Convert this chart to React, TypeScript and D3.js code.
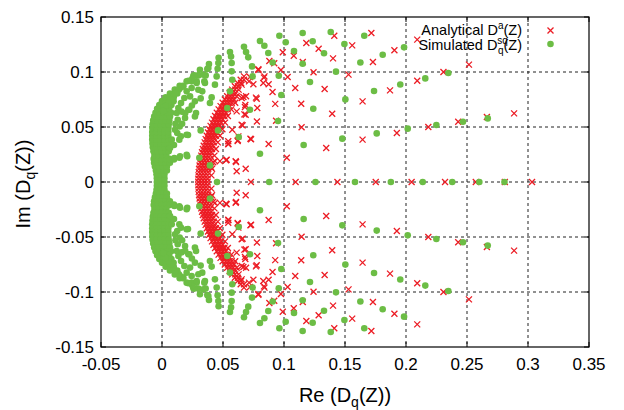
import React from "react";
import * as d3 from "d3";

// ---------- axis ticks ----------
const xTicks = [-0.05, 0, 0.05, 0.1, 0.15, 0.2, 0.25, 0.3, 0.35];
const xTickLabels = ["-0.05", "0", "0.05", "0.1", "0.15", "0.2", "0.25", "0.3", "0.35"];
const yTicks = [-0.15, -0.1, -0.05, 0, 0.05, 0.1, 0.15];
const yTickLabels = ["-0.15", "-0.1", "-0.05", "0", "0.05", "0.1", "0.15"];

// ---------- Analytical (red crosses) ----------
// points lying on the real axis
const redAxisRe = [0.0298, 0.0323, 0.0348, 0.0373, 0.0729, 0.1095, 0.1438, 0.1752, 0.2046, 0.232, 0.2572, 0.281, 0.3033];
// dense crescent, rows [Im, Re values]; upper half (lower half is the complex conjugate)
const redBandRows: [number, number[]][] = [
  [0.003, [0.0298, 0.0323, 0.0348, 0.0373]],
  [0.006, [0.0299, 0.0324, 0.0349, 0.0374, 0.0405]],
  [0.009, [0.0301, 0.0326, 0.0351, 0.0376]],
  [0.012, [0.0304, 0.0329, 0.0354, 0.0379, 0.041]],
  [0.015, [0.0308, 0.0333, 0.0358, 0.0383]],
  [0.018, [0.0312, 0.0337, 0.0362, 0.0387, 0.042]],
  [0.021, [0.0317, 0.0342, 0.0367, 0.0392]],
  [0.024, [0.0322, 0.0347, 0.0372, 0.0397, 0.043]],
  [0.027, [0.0328, 0.0353, 0.0378, 0.0403]],
  [0.03, [0.0335, 0.036, 0.0385, 0.041, 0.0442]],
  [0.033, [0.0342, 0.0367, 0.0392, 0.0417]],
  [0.036, [0.035, 0.0375, 0.04, 0.0425, 0.0457]],
  [0.039, [0.0358, 0.0383, 0.0408, 0.0433]],
  [0.042, [0.0367, 0.0392, 0.0417, 0.0442, 0.0475]],
  [0.045, [0.0377, 0.0402, 0.0427, 0.0452]],
  [0.048, [0.0387, 0.0412, 0.0437, 0.0462, 0.0495]],
  [0.051, [0.0398, 0.0423, 0.0448, 0.0473]],
  [0.054, [0.041, 0.0435, 0.046, 0.0485, 0.0517]],
  [0.057, [0.0422, 0.0447, 0.0472, 0.0497]],
  [0.06, [0.0435, 0.046, 0.0485, 0.051, 0.054]],
  [0.063, [0.0449, 0.0474, 0.0499, 0.0524]],
  [0.066, [0.0464, 0.0489, 0.0514, 0.0539, 0.0568]],
  [0.069, [0.048, 0.0505, 0.053, 0.0555]],
  [0.072, [0.0497, 0.0522, 0.0547, 0.0572, 0.06]],
  [0.075, [0.0515, 0.054, 0.0565, 0.059]],
  [0.078, [0.0534, 0.0559, 0.0584, 0.0612]],
  [0.081, [0.0554, 0.0579, 0.0604]],
  [0.084, [0.0575, 0.06, 0.0628]],
  [0.087, [0.0597, 0.0622]],
  [0.09, [0.062, 0.0648]],
  [0.093, [0.0645, 0.0672]],
  [0.096, [0.0672]],
];
// scattered crosses, upper half [Re, Im]
const redUpper: [number, number][] = [
  [0.1412, 0.133], [0.1716, 0.1355], [0.1183, 0.1264], [0.1284, 0.1212], [0.1559, 0.1242], [0.2092, 0.1294],
  [0.099, 0.118], [0.108, 0.1148], [0.1402, 0.1124], [0.1729, 0.1091], [0.1905, 0.1197], [0.1154, 0.1091],
  [0.088, 0.11], [0.092, 0.108], [0.0975, 0.1018], [0.079, 0.1018], [0.1242, 0.0997], [0.1529, 0.0976],
  [0.2307, 0.1], [0.2516, 0.1067], [0.0721, 0.0955], [0.084, 0.096], [0.103, 0.0955], [0.0906, 0.0818],
  [0.1092, 0.0855], [0.1333, 0.0845], [0.1869, 0.0833], [0.2092, 0.0921], [0.0776, 0.0757], [0.1141, 0.0712],
  [0.1644, 0.0733], [0.0928, 0.071], [0.1395, 0.0621], [0.2886, 0.0624], [0.2663, 0.0591], [0.2428, 0.0548],
  [0.2183, 0.05], [0.1925, 0.0445], [0.1644, 0.0385], [0.1144, 0.0497], [0.0778, 0.055], [0.0935, 0.0557],
  [0.1346, 0.0309], [0.1023, 0.022], [0.0686, 0.012], [0.0874, 0.0345], [0.0725, 0.0393], [0.0622, 0.038],
  [0.0661, 0.0515], [0.0653, 0.0885], [0.0713, 0.0915], [0.083, 0.09], [0.0667, 0.0773], [0.0781, 0.0673],
  [0.068, 0.0682], [0.0612, 0.0642], [0.0686, 0.0612], [0.0576, 0.0475], [0.0543, 0.0348], [0.0604, 0.0188],
  [0.053, 0.0203], [0.0402, 0.0136], [0.0434, 0.019], [0.0475, 0.019], [0.0525, 0.0197], [0.0607, 0.0182],
  [0.0544, 0.0343], [0.062, 0.0373], [0.073, 0.0388], [0.0675, 0.0615], [0.0683, 0.07], [0.0689, 0.078],
  [0.077, 0.0767], [0.0749, 0.0888], [0.079, 0.1025], [0.0836, 0.0949], [0.0874, 0.0888], [0.0653, 0.0764],
  [0.0653, 0.052], [0.0543, 0.037], [0.0612, 0.0097], [0.0626, 0.0415],
];

// ---------- Simulated (green dots) ----------
const greenAxisRe = [-0.0042, -0.001, 0.002, 0.0451, 0.0879, 0.1258, 0.1582, 0.1876, 0.2137, 0.2379, 0.2601, 0.2807];
// dense lobe near the origin, rows [Im, Re values]; upper half
const greenLobeRows: [number, number[]][] = [
  [0.0035, [-0.0042, -0.001, 0.002]],
  [0.007, [-0.0045, -0.0012, 0.002]],
  [0.0105, [-0.005, -0.0017, 0.0015, 0.004]],
  [0.014, [-0.0058, -0.0025, 0.0008, 0.004]],
  [0.0175, [-0.0065, -0.0032, 0.0, 0.0033, 0.0065]],
  [0.021, [-0.0068, -0.0035, -0.0002, 0.003, 0.0062]],
  [0.0245, [-0.0062, -0.003, 0.0003, 0.0035]],
  [0.028, [-0.007, -0.0037, -0.0004, 0.0029, 0.0055]],
  [0.0315, [-0.0075, -0.0042, -0.0009, 0.0024, 0.0055]],
  [0.035, [-0.0078, -0.0045, -0.0012, 0.0021, 0.0054]],
  [0.0385, [-0.008, -0.0047, -0.0014, 0.0019, 0.0052]],
  [0.042, [-0.008, -0.0047, -0.0014, 0.0019, 0.0052]],
  [0.0455, [-0.008, -0.0047, -0.0014, 0.0019, 0.0052]],
  [0.049, [-0.0079, -0.0046, -0.0013, 0.002, 0.0053]],
  [0.0525, [-0.0077, -0.0044, -0.0011, 0.0022, 0.0055]],
  [0.056, [-0.0072, -0.0039, -0.0006, 0.0027, 0.006]],
  [0.0595, [-0.0064, -0.0031, 0.0002, 0.0035, 0.0066]],
  [0.063, [-0.0053, -0.002, 0.0013, 0.0046, 0.0075]],
  [0.0665, [-0.004, -0.0007, 0.0026, 0.0059]],
  [0.07, [-0.0022, 0.0011, 0.0044, 0.0077]],
  [0.0735, [0.0, 0.0033, 0.0066, 0.0095]],
  [0.077, [0.003, 0.0063, 0.0096]],
  [0.0805, [0.0065, 0.0098, 0.0125]],
  [0.084, [0.0105, 0.0138]],
  [0.0875, [0.0145, 0.0172]],
];
// scattered dots, upper half [Re, Im]
const greenUpper: [number, number][] = [
  [0.0962, 0.133], [0.1153, 0.1354], [0.1383, 0.1364], [0.1658, 0.133], [0.0803, 0.1282], [0.1014, 0.127],
  [0.1235, 0.128], [0.1495, 0.1254], [0.0672, 0.123], [0.0839, 0.1239], [0.1328, 0.117], [0.1809, 0.1157],
  [0.1984, 0.1224], [0.0557, 0.1182], [0.0689, 0.1182], [0.0871, 0.1173], [0.1082, 0.1191], [0.1153, 0.1075],
  [0.1626, 0.1087], [0.0464, 0.113], [0.0566, 0.114], [0.0707, 0.1133], [0.0907, 0.1087], [0.1426, 0.1003],
  [0.2347, 0.0991], [0.2158, 0.0942], [0.0385, 0.1073], [0.0462, 0.1082], [0.0571, 0.1082], [0.0738, 0.1051],
  [0.1213, 0.0909], [0.1953, 0.0887], [0.0311, 0.1021], [0.0371, 0.1027], [0.0456, 0.103], [0.0571, 0.1006],
  [0.0957, 0.0966], [0.1738, 0.0827], [0.0257, 0.0966], [0.0298, 0.0969], [0.0358, 0.0969], [0.0448, 0.096],
  [0.0576, 0.093], [0.0743, 0.096], [0.1503, 0.0751], [0.0202, 0.0915], [0.0243, 0.0915], [0.0284, 0.0915],
  [0.0347, 0.0915], [0.0434, 0.0885], [0.0557, 0.0824], [0.0978, 0.0791], [0.124, 0.0666], [0.0298, 0.0839],
  [0.033, 0.0824], [0.0317, 0.076], [0.0407, 0.0769], [0.0393, 0.0718], [0.0535, 0.0673], [0.0721, 0.0657],
  [0.2014, 0.0485], [0.2249, 0.0518], [0.2467, 0.0548], [0.267, 0.0578], [0.0224, 0.0657], [0.0279, 0.0627],
  [0.027, 0.0596], [0.0459, 0.0469], [0.0629, 0.0409], [0.0951, 0.0555], [0.176, 0.0442], [0.1478, 0.0394],
  [0.1161, 0.0336], [0.0803, 0.0257], [0.0317, 0.0469], [0.0213, 0.0427], [0.0142, 0.0385], [0.0098, 0.0336],
  [0.0098, 0.0204], [0.0142, 0.022], [0.0207, 0.0234], [0.0306, 0.022], [0.0393, 0.0151],
  [0.038, 0.1036], [0.0339, 0.0975], [0.0265, 0.0969], [0.0248, 0.0939], [0.0216, 0.0921], [0.0175, 0.087],
  [0.0156, 0.086], [0.0134, 0.0839], [0.0112, 0.0809], [0.0093, 0.0779], [0.0073, 0.075], [0.0052, 0.072],
  [0.003, 0.069], [0.0011, 0.0645],
  [0.0243, 0.0855], [0.0284, 0.09], [0.0352, 0.09], [0.0202, 0.0824], [0.023, 0.0778], [0.0183, 0.0764],
  [0.027, 0.0733], [0.0156, 0.0718], [0.0134, 0.0673], [0.0216, 0.0657], [0.012, 0.0627], [0.0129, 0.0566],
  [0.0189, 0.0582], [0.0107, 0.0475], [0.0202, 0.043], [0.008, 0.0385], [0.0066, 0.0309], [0.0101, 0.0218],
  [0.0148, 0.0233], [0.0202, 0.0248], [0.0125, 0.0445], [0.0155, 0.0415], [0.0145, 0.0505], [0.0165, 0.053],
  [0.019, 0.0625], [0.0245, 0.0695], [0.016, 0.064], [0.011, 0.053],
];

// ---------- assemble (upper half + complex conjugates + real axis) ----------
type P = [number, number];
const rowsToPoints = (rows: [number, number[]][]): P[] =>
  rows.flatMap(([im, res]) => res.map((re) => [re, im] as P));
const withConjugates = (pts: P[]): P[] => pts.flatMap(([re, im]) => [[re, im] as P, [re, -im] as P]);

const redPoints: P[] = [
  ...redAxisRe.map((re) => [re, 0] as P),
  ...withConjugates([...rowsToPoints(redBandRows), ...redUpper]),
];
const greenPoints: P[] = [
  ...greenAxisRe.map((re) => [re, 0] as P),
  ...withConjugates([...rowsToPoints(greenLobeRows), ...greenUpper]),
];

const RED = "#ec1c24";
const GREEN = "#6cbd45";
const FONT = "'Liberation Sans', Arial, Helvetica, sans-serif";

export default function App() {
  const W = 624, H = 410;
  const left = 101, right = 589, top = 17, bottom = 347;
  const x = d3.scaleLinear().domain([-0.05, 0.35]).range([left, right]);
  const y = d3.scaleLinear().domain([-0.15, 0.15]).range([bottom, top]);
  const cross = "M-3,-3L3,3M-3,3L3,-3";
  const tickLen = 5;

  return (
    <svg width={W} height={H} style={{ position: "absolute", left: 0, top: 0, background: "#fff" }} fontFamily={FONT}>
      <rect x={0} y={0} width={W} height={H} fill="#fff" />
      {/* grid */}
      <g stroke="#222" strokeWidth={1} strokeDasharray="3,3">
        {xTicks.slice(1, -1).map((t) => (
          <line key={"gx" + t} x1={x(t)} x2={x(t)} y1={top} y2={bottom} />
        ))}
        {yTicks.slice(1, -1).map((t) => (
          <line key={"gy" + t} x1={left} x2={right} y1={y(t)} y2={y(t)} />
        ))}
      </g>
      {/* tick marks on all sides */}
      <g stroke="#000" strokeWidth={1}>
        {xTicks.map((t) => (
          <g key={"tx" + t}>
            <line x1={x(t)} x2={x(t)} y1={bottom} y2={bottom - tickLen} />
            <line x1={x(t)} x2={x(t)} y1={top} y2={top + tickLen} />
          </g>
        ))}
        {yTicks.map((t) => (
          <g key={"ty" + t}>
            <line x1={left} x2={left + tickLen} y1={y(t)} y2={y(t)} />
            <line x1={right} x2={right - tickLen} y1={y(t)} y2={y(t)} />
          </g>
        ))}
      </g>
      {/* data: analytical first, simulated on top */}
      <g stroke={RED} strokeWidth={1.3} fill="none">
        {redPoints.map(([re, im], i) => (
          <path key={"r" + i} d={cross} transform={`translate(${x(re)},${y(im)})`} />
        ))}
      </g>
      <g fill={GREEN}>
        {greenPoints.map(([re, im], i) => (
          <circle key={"g" + i} cx={x(re)} cy={y(im)} r={3.3} />
        ))}
      </g>
      {/* border */}
      <rect x={left} y={top} width={right - left} height={bottom - top} fill="none" stroke="#000" strokeWidth={1.2} />
      {/* tick labels */}
      <g fontSize={17} fill="#000">
        {xTicks.map((t, i) => (
          <text key={"lx" + t} x={x(t)} y={370} textAnchor="middle">{xTickLabels[i]}</text>
        ))}
        {yTicks.map((t, i) => (
          <text key={"ly" + t} x={94} y={y(t) + 6} textAnchor="end">{yTickLabels[i]}</text>
        ))}
      </g>
      {/* axis titles */}
      <text x={345} y={402} textAnchor="middle" fontSize={20}>
        Re (D<tspan fontSize={14} dy={5}>q</tspan><tspan dy={-5}>(Z))</tspan>
      </text>
      <text transform="translate(30,184) rotate(-90)" textAnchor="middle" fontSize={20}>
        Im (D<tspan fontSize={14} dy={5}>q</tspan><tspan dy={-5}>(Z))</tspan>
      </text>
      {/* legend */}
      <g fontSize={14.5} fill="#000">
        <text x={522} y={35} textAnchor="end">
          Analytical D<tspan fontSize={10} dy={-6}>a</tspan><tspan dy={6}>(Z)</tspan>
        </text>
        <text x={522} y={50} textAnchor="end">
          Simulated D<tspan fontSize={10} dy={-6}>sq</tspan><tspan fontSize={10} dx={-10} dy={10}>q</tspan><tspan dy={-4}>(Z)</tspan>
        </text>
        <path d={cross} transform="translate(550.5,30.5)" stroke={RED} strokeWidth={1.3} fill="none" />
        <circle cx={550.5} cy={44} r={3.3} fill={GREEN} />
      </g>
    </svg>
  );
}
